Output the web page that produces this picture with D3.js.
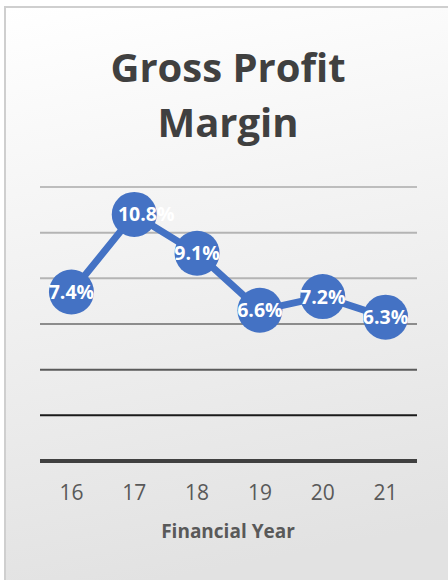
<!DOCTYPE html>
<html>
<head>
<meta charset="utf-8">
<script src="https://cdn.jsdelivr.net/npm/d3@7"></script>
<style>
  html, body { margin: 0; padding: 0; background: #fff; }
  text { font-family: "Open Sans", sans-serif; }
</style>
</head>
<body>
<div class="chart"></div>
<script>
const years = ["16", "17", "18", "19", "20", "21"];
const margins = [7.4, 10.8, 9.1, 6.6, 7.2, 6.3];
const labels = ["7.4%", "10.8%", "9.1%", "6.6%", "7.2%", "6.3%"];
const gridValues = [0, 2, 4, 6, 8, 10, 12];
const gridColors = ["#404040", "#1a1a1a", "#5a5a5a", "#8c8c8c", "#b4b4b4", "#b4b4b4", "#bdbdbd"];

const width = 448, height = 580;
const plot = {left: 40, right: 417, top: 187, bottom: 461};
const peakLabelOffset = 12; // the 10.8% label sits nudged right

const svg = d3.select(".chart").append("svg")
    .attr("width", width)
    .attr("height", height);

const grad = svg.append("defs").append("linearGradient")
    .attr("id", "bg")
    .attr("x1", 0).attr("y1", 0).attr("x2", 0.15).attr("y2", 1);
grad.append("stop").attr("offset", "0%").attr("stop-color", "#ffffff");
grad.append("stop").attr("offset", "100%").attr("stop-color", "#e2e2e2");

svg.append("rect")
    .attr("x", 5).attr("y", 7)
    .attr("width", width + 10).attr("height", height + 10)
    .attr("fill", "url(#bg)")
    .attr("stroke", "#cfcfcf")
    .attr("stroke-width", 2);

const x = d3.scaleBand()
    .domain(years)
    .range([plot.left, plot.right]);

const y = d3.scaleLinear()
    .domain([0, 12])
    .range([plot.bottom, plot.top]);

const cx = i => x(years[i]) + x.bandwidth() / 2;

// gridlines
svg.selectAll("line.grid")
    .data(gridValues)
  .enter().append("line")
    .attr("class", "grid")
    .attr("x1", plot.left).attr("x2", plot.right)
    .attr("y1", d => y(d)).attr("y2", d => y(d))
    .attr("stroke", (d, i) => gridColors[i])
    .attr("stroke-width", d => d === 0 ? 4 : 2);

// x axis tick labels
svg.selectAll("text.tick")
    .data(years)
  .enter().append("text")
    .attr("class", "tick")
    .attr("x", d => x(d) + x.bandwidth() / 2)
    .attr("y", 500)
    .attr("text-anchor", "middle")
    .attr("fill", "#595959")
    .style("font-size", "21px")
    .text(d => d);

svg.append("text")
    .attr("x", 228)
    .attr("y", 538)
    .attr("text-anchor", "middle")
    .attr("fill", "#595959")
    .style("font-size", "19px")
    .style("font-weight", "bold")
    .text("Financial Year");

const title = svg.append("text")
    .attr("text-anchor", "middle")
    .attr("fill", "#404040")
    .style("font-size", "40px")
    .style("font-weight", "bold");
title.append("tspan").attr("x", 228).attr("y", 82).text("Gross Profit");
title.append("tspan").attr("x", 228).attr("y", 137).text("Margin");

const line = d3.line()
    .x((d, i) => cx(i))
    .y(d => y(d));

svg.append("path")
    .datum(margins)
    .attr("d", line)
    .attr("fill", "none")
    .attr("stroke", "#4472c4")
    .attr("stroke-width", 7)
    .attr("stroke-linejoin", "round");

svg.selectAll("circle.pt")
    .data(margins)
  .enter().append("circle")
    .attr("class", "pt")
    .attr("cx", (d, i) => cx(i))
    .attr("cy", d => y(d))
    .attr("r", 22.5)
    .attr("fill", "#4472c4");

svg.selectAll("text.val")
    .data(margins)
  .enter().append("text")
    .attr("class", "val")
    .attr("x", (d, i) => cx(i) + (d === d3.max(margins) ? peakLabelOffset : 0))
    .attr("y", d => y(d) + 7)
    .attr("text-anchor", "middle")
    .attr("fill", "#ffffff")
    .style("font-size", "19.5px")
    .style("font-weight", "bold")
    .text((d, i) => labels[i]);
</script>
</body>
</html>
